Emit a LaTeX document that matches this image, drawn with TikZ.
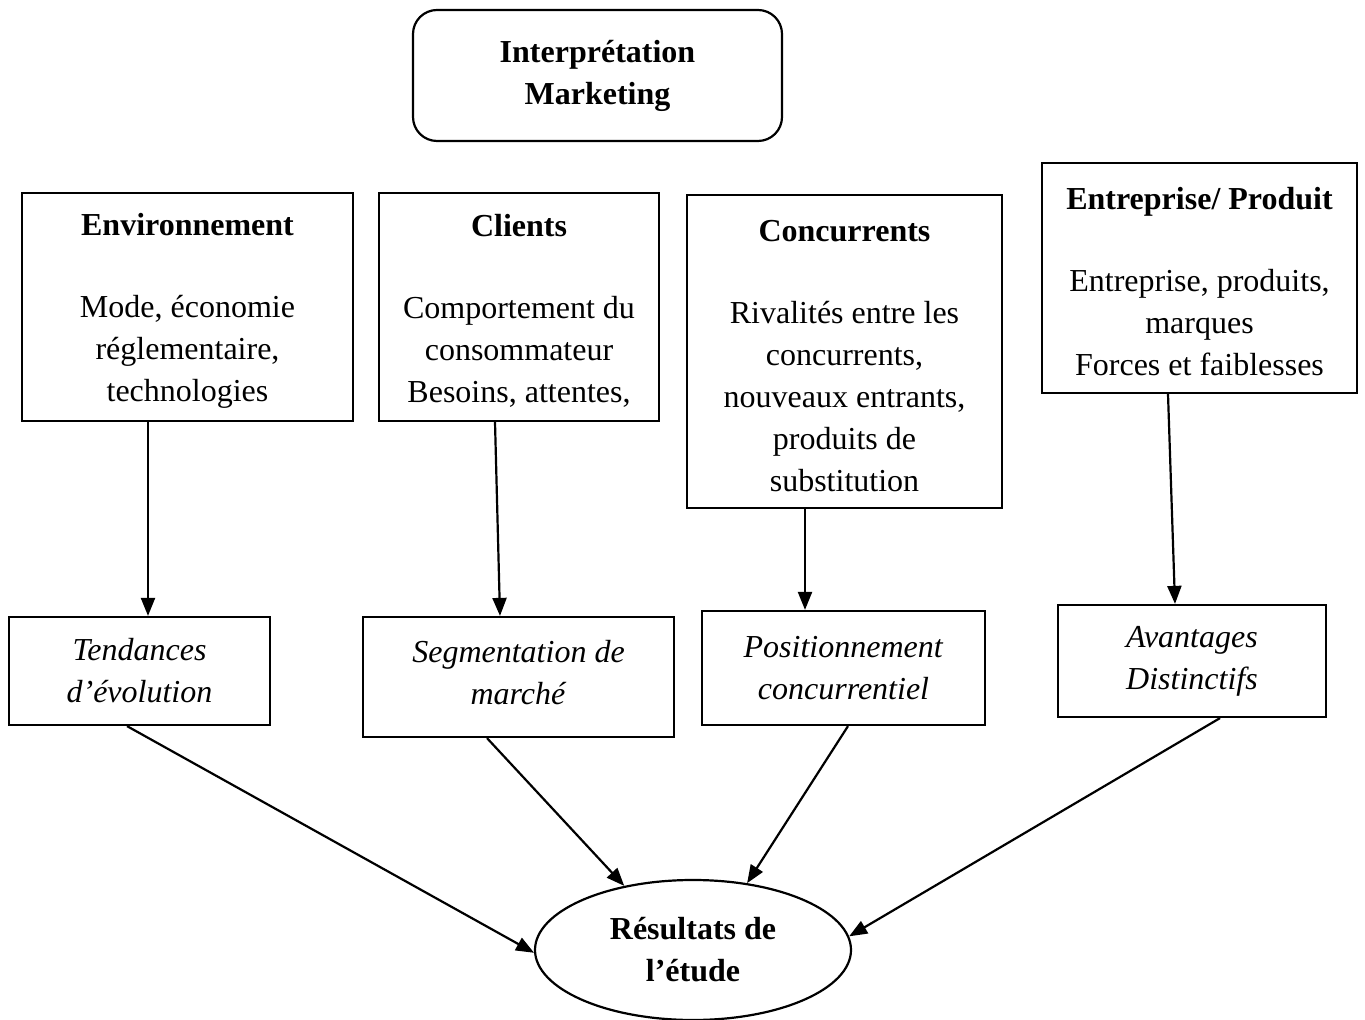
\documentclass[tikz,border=0pt]{standalone}
\usepackage{fontspec}
\setmainfont{Liberation Serif}
\usepackage{tikz}
\usetikzlibrary{arrows.meta,shapes.geometric,calc}
\newcommand{\toppad}{\rule{0pt}{15pt}}

\begin{document}
\begin{tikzpicture}[x=0.5pt,y=-0.5pt,line width=1.1pt,
  font=\fontsize{16}{21}\selectfont,
  box/.style={draw,rectangle,inner sep=0pt,align=center},
  flow/.style={-{Triangle[length=9pt,width=7pt]}}]
\useasboundingbox (0,0) rectangle (1365,1020);
% top
\node[box,rounded corners=12pt,minimum width=184.5pt,minimum height=65.5pt] (interp) at (597.5,75.5)
  {\textbf{Interprétation}\\\textbf{Marketing}};
% analysis fields
\node[box,minimum width=165.5pt,minimum height=114pt] (env) at (187.5,307)
  {\toppad\textbf{Environnement}\\[20pt]Mode, économie\\réglementaire,\\technologies};
\node[box,minimum width=140pt,minimum height=114pt] (cli) at (519,307)
  {\toppad\textbf{Clients}\\[20pt]Comportement du\\consommateur\\Besoins, attentes,};
\node[box,minimum width=157.5pt,minimum height=156.5pt] (con) at (844.5,351.5)
  {\toppad\textbf{Concurrents}\\[20pt]Rivalités entre les\\concurrents,\\nouveaux entrants,\\produits de\\substitution};
\node[box,minimum width=157.5pt,minimum height=115pt] (ent) at (1199.5,278)
  {\toppad\textbf{Entreprise/ Produit}\\[20pt]Entreprise, produits,\\marques\\Forces et faiblesses};
% outcomes
\node[box,minimum width=130.5pt,minimum height=54pt] (tend) at (139.5,671)
  {\textit{Tendances}\\\textit{d’évolution}};
\node[box,minimum width=155.5pt,minimum height=60pt] (seg) at (518.5,677)
  {\textit{Segmentation de}\\\textit{marché}\rule[-5pt]{0pt}{0pt}};
\node[box,minimum width=141.5pt,minimum height=57pt] (pos) at (843.5,668)
  {\textit{Positionnement}\\\textit{concurrentiel}};
\node[box,minimum width=134pt,minimum height=56pt] (av) at (1192,661)
  {\textit{Avantages}\\\textit{Distinctifs}};
\node[draw,ellipse,inner sep=0pt,align=center,minimum width=158pt,minimum height=70pt] (res) at (693,950)
  {\textbf{Résultats de}\\\textbf{l’étude}};
% arrows
\draw[flow] ($(env.south)+(-39.5,0)$) -- ($(tend.north)+(8.5,0)$);
\draw[flow] ($(cli.south)+(-24,0)$) -- ($(seg.north)+(-18.5,0)$);
\draw[flow] ($(con.south)+(-39.5,0)$) -- ($(pos.north)+(-38.5,0)$);
\draw[flow] ($(ent.south)+(-31.5,0)$) -- ($(av.north)+(-17,0)$);
\draw[flow] ($(tend.south)+(-12.5,0)$) -- (res.181);
\draw[flow] ($(seg.south)+(-31.5,0)$) -- (res.137);
\draw[flow] ($(pos.south)+(4.5,0)$) -- (res.51);
\draw[flow] ($(av.south)+(28,0)$) -- (res.5);
\end{tikzpicture}
\end{document}
